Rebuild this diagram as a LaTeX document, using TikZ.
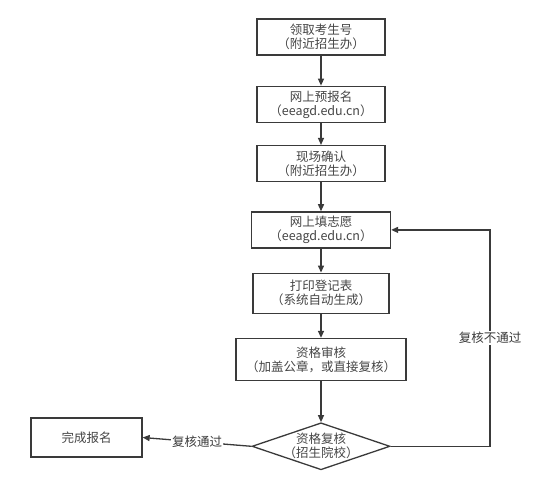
\documentclass[tikz,border=0pt]{standalone}
\usepackage{fontspec}
\setmainfont{Noto Sans CJK SC}
\usepackage{tikz}
\usetikzlibrary{shapes.geometric,arrows.meta,positioning}
\definecolor{linegray}{HTML}{3A3A3A}
\definecolor{textgray}{HTML}{454545}

\begin{document}
\begin{tikzpicture}[x=1pt,y=1pt,font=\fontsize{12.5}{14}\selectfont,text=textgray,
  s/.style={draw=linegray,line width=1.3pt,minimum width=128pt,minimum height=36pt,align=center,inner sep=1pt},
  dec/.style={draw=linegray,line width=1.3pt,diamond,aspect=2.95,inner sep=-3.5pt,minimum width=138pt,minimum height=47pt,align=center},
  arr/.style={-{Triangle[length=7pt,width=6pt]},line width=1.3pt,linegray},
  lbl/.style={fill=white,inner sep=1pt}]
\useasboundingbox (0,0) rectangle (555,-484);
\node[s] (a) at (321,-37) {领取考生号\\（附近招生办）};
\node[s,below=30pt of a] (b) {网上预报名\\（eeagd.edu.cn）};
\node[s,below=22pt of b] (c) {现场确认\\（附近招生办）};
\node[s,below=29pt of c,minimum width=139pt] (d) {网上填志愿\\（eeagd.edu.cn）};
\node[s,below=24pt of d,minimum width=136pt,minimum height=40pt] (e) {打印登记表\\（系统自动生成）};
\node[s,below=24pt of e,minimum width=170pt,minimum height=42pt] (f) {资格审核\\（加盖公章，或直接复核）};
\node[dec,below=41pt of f] (g) {资格复核\\（招生院校）};
\node[s,minimum width=111pt,minimum height=39pt] (h) at (86.5,-437.5) {完成报名};
\coordinate (r) at (490,0);
\draw[arr](a)--(b);\draw[arr](b)--(c);\draw[arr](c)--(d);\draw[arr](d)--(e);\draw[arr](e)--(f);\draw[arr](f)--(g);
\draw[arr](g.west)--node[lbl]{复核通过}(h.east);
\draw[arr](g.east)-|node[lbl,pos=0.75]{复核不通过}(r|-d.east)--(d.east);
\end{tikzpicture}
\end{document}
